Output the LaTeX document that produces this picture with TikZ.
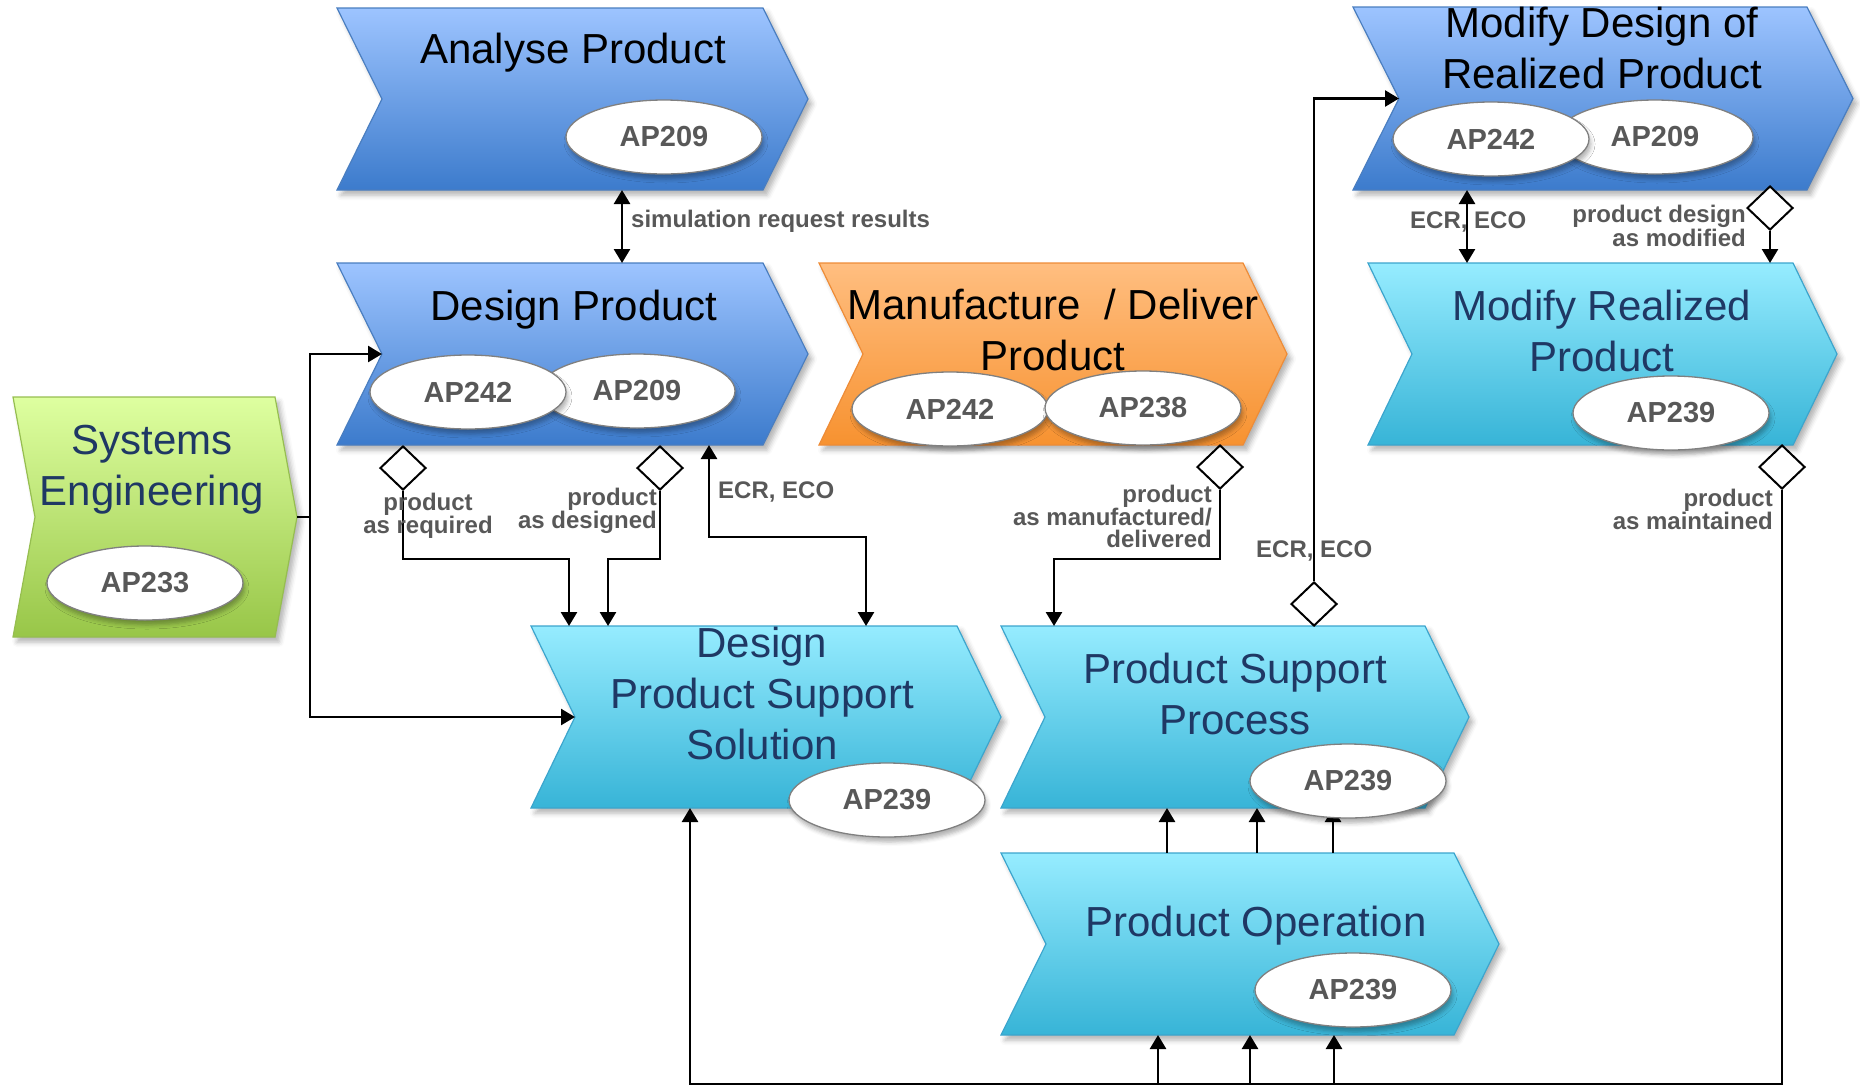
\documentclass[tikz,border=0pt]{standalone}
\usepackage{fontspec}
\setmainfont{Liberation Sans}
\usetikzlibrary{arrows.meta,shapes.geometric,calc,shadows.blur}

\definecolor{blueT}{RGB}{157,196,255}
\definecolor{blueB}{RGB}{60,123,204}
\definecolor{blueE}{RGB}{74,126,192}
\definecolor{orT}{RGB}{255,190,128}
\definecolor{orB}{RGB}{247,146,48}
\definecolor{orE}{RGB}{238,140,55}
\definecolor{cyT}{RGB}{150,236,255}
\definecolor{cyB}{RGB}{55,180,215}
\definecolor{cyE}{RGB}{60,165,205}
\definecolor{grT}{RGB}{222,255,160}
\definecolor{grB}{RGB}{152,198,72}
\definecolor{grE}{RGB}{150,190,80}
\definecolor{navy}{RGB}{31,56,100}
\definecolor{lblgray}{RGB}{88,88,88}
\definecolor{ellgray}{RGB}{128,128,128}

\newcommand{\chevshape}[3]{%
  \path[#3] (#1.north west) -- (#1.north east) -- ($(#1.east)+(#2,0)$) -- (#1.south east) -- (#1.south west) -- ($(#1.west)+(#2,0)$) -- cycle;
  \coordinate (#1-in) at ($(#1.west)+(#2,0)$);
  \coordinate (#1-out) at ($(#1.east)+(#2,0)$);}

\tikzset{
  frm/.style={inner sep=0pt, outer sep=0pt, draw=none},
  chev/.style={line width=1.2pt, blur shadow={shadow xshift=4pt, shadow yshift=-5pt, shadow blur radius=5pt, shadow opacity=30}},
  bluebox/.style={chev, draw=blueE, top color=blueT, bottom color=blueB},
  orbox/.style={chev, draw=orE, top color=orT, bottom color=orB},
  cybox/.style={chev, draw=cyE, top color=cyT, bottom color=cyB},
  grbox/.style={chev, draw=grE, top color=grT, bottom color=grB},
  ttl/.style={font=\fontsize{42}{51}\selectfont, inner sep=0pt, align=center, text=black},
  ttlnavy/.style={ttl, text=navy},
  apell/.style={ellipse, draw=ellgray, line width=1.3pt, fill=white, minimum width=196pt, minimum height=74pt, inner sep=0pt, font=\fontsize{29}{29}\selectfont\bfseries, text=lblgray, blur shadow={shadow xshift=2pt, shadow yshift=-5pt, shadow blur radius=4pt, shadow opacity=30}},
  lbl/.style={font=\fontsize{24}{22}\selectfont\bfseries, text=lblgray, inner sep=0pt},
  conn/.style={line width=2.6pt, draw=black},
  arr/.style={-{Triangle[length=14pt,width=16pt]}},
  arrs/.style={{Triangle[length=14pt,width=16pt]}-{Triangle[length=14pt,width=16pt]}},
  dia/.style={diamond, draw=black, line width=2pt, fill=white, minimum width=46pt, minimum height=44pt, inner sep=0pt}
}

\begin{document}
\begin{tikzpicture}[x=1pt, y=-1pt]
\useasboundingbox (0,0) rectangle (1860,1085);

% ---- box frames ----
\node[frm, minimum width=426pt, minimum height=182pt] (an) at (550,99) {};
\node[frm, minimum width=426pt, minimum height=182pt] (dp) at (550,354) {};
\node[frm, minimum width=424pt, minimum height=182pt] (mf) at (1031,354) {};
\node[frm, minimum width=454pt, minimum height=183pt] (md) at (1580,98.5) {};
\node[frm, minimum width=425pt, minimum height=182pt] (mr) at (1580.5,354) {};
\node[frm, minimum width=262pt, minimum height=240pt] (se) at (144,517) {};
\node[frm, minimum width=426pt, minimum height=182pt] (ds) at (744,717) {};
\node[frm, minimum width=424pt, minimum height=182pt] (ps) at (1213,717) {};
\node[frm, minimum width=453pt, minimum height=182pt] (po) at (1227.5,944) {};

% ---- chevrons ----
\chevshape{an}{45}{bluebox}
\chevshape{dp}{45}{bluebox}
\chevshape{mf}{44}{orbox}
\chevshape{md}{46}{bluebox}
\chevshape{mr}{44}{cybox}
\chevshape{se}{22}{grbox}
\chevshape{ds}{44}{cybox}
\chevshape{ps}{44}{cybox}
\chevshape{po}{45}{cybox}

% ---- titles ----
\node[ttl, anchor=base] (anT) at (573,63) {Analyse Product};
\node[ttl, anchor=base] (dpT) at (574,320) {Design Product};
\node[ttl, anchor=north] (mfT) at (1053,289) {Manufacture~~/ Deliver\\Product};
\node[ttl, anchor=north] (mdT) at (1602,7) {Modify Design of\\Realized Product};
\node[ttlnavy, anchor=north] (mrT) at (1602,290) {Modify Realized\\Product};
\node[ttlnavy, anchor=north] (seT) at (152,425) {Systems\\Engineering};
\node[ttlnavy, anchor=north] (dsT) at (762,627) {Design\\Product Support\\Solution};
\node[ttlnavy, anchor=north] (psT) at (1235,653) {Product Support\\Process};
\node[ttlnavy, anchor=base] (poT) at (1256,936) {Product Operation};

% ---- connectors ----
% Analyse <-> Design
\draw[conn, arrs] ($(an.south)+(72,0)$) -- ($(dp.north)+(72,0)$);
\node[lbl, anchor=base west] (simL) at (631,227) {simulation request results};

% Systems Engineering -> Design Product / Design Product Support Solution
\draw[conn] (se-out) -- ++(13,0) coordinate (sej);
\draw[conn, arr] (sej) |- (dp-in);
\draw[conn, arr] (sej) |- (ds-in);

% product as required
\node[dia] (d1) at (403,468) {};
\draw[conn, arr] (d1.south) -- ++(0,68) -| ($(ds.north)+(-175,0)$);
% product as designed
\node[dia] (d2) at (660,468) {};
\draw[conn, arr] (d2.south) -- ++(0,68) -| ($(ds.north)+(-136,0)$);
% ECR, ECO between DPSS and Design Product
\draw[conn, arrs] ($(ds.north)+(122,0)$) -- ++(0,-89) -| ($(dp.south)+(159,0)$);

\node[lbl, anchor=north, align=center] (l1) at (428,493) {product\\as required};
\node[lbl, anchor=north east, align=right] (l2) at (657,488) {product\\as designed};
\node[lbl, anchor=base west] (l3) at (718,498) {ECR, ECO};

% product as manufactured / delivered
\node[dia] (d3) at (1220,467) {};
\draw[conn, arr] (d3.south) -- ++(0,69) -| ($(ps.north)+(-159,0)$);
\node[lbl, anchor=north east, align=right] (l4) at (1212,485) {product\\as manufactured/\\delivered};

% ECR, ECO from Product Support Process to Modify Design
\node[dia] (d4) at (1314,604) {};
\draw[conn, arr] (d4.north) |- (md-in);
\node[lbl, anchor=base west] (l5) at (1256,557) {ECR, ECO};

% Modify Design <-> Modify Realized
\draw[conn, arrs] ($(md.south)+(-113,0)$) -- ($(mr.north)+(-113.5,0)$);
\node[lbl, anchor=base west] (l6) at (1410,228) {ECR, ECO};

% product design as modified
\node[dia] (d5) at (1770,208) {};
\draw[conn, arr] (d5.south) -- ($(mr.north)+(189.5,0)$);
\node[lbl, anchor=north east, align=right] (l7) at (1746,205) {product design\\as modified};

% product as maintained
\node[dia] (d6) at (1782,467) {};
\draw[conn, arr] (d6.south) -- ++(0,594) -| ($(ds.south)+(-54,0)$);
\node[lbl, anchor=north east, align=right] (l8) at (1773,489) {product\\as maintained};

% branches from bottom line to Product Operation
\draw[conn, arr] ($(po.south)+(-69.5,48)$) -- ++(0,-48);
\draw[conn, arr] ($(po.south)+(22.5,48)$) -- ++(0,-48);
\draw[conn, arr] ($(po.south)+(106.5,48)$) -- ++(0,-48);

% Product Operation -> Product Support Process
\draw[conn, arr] ($(po.north)+(-60.5,0)$) -- ($(ps.south)+(-46,0)$);
\draw[conn, arr] ($(po.north)+(29.5,0)$) -- ($(ps.south)+(44,0)$);
\draw[conn, arr] ($(po.north)+(105.5,0)$) -- ($(ps.south)+(120,0)$);

% ---- ellipses ----
\node[apell] (anE) at (664,137) {AP209};
\node[apell] (dpE2) at (637,391) {AP209};
\node[apell] (dpE1) at (468,392) {AP242};
\node[apell] (mfE1) at (950,409) {AP242};
\node[apell] (mfE2) at (1143,408) {AP238};
\node[apell] (mdE2) at (1655,137) {AP209};
\node[apell] (mdE1) at (1491,139) {AP242};
\node[apell] (mrE) at (1671,413) {AP239};
\node[apell] (seE) at (145,583) {AP233};
\node[apell] (dsE) at (887,800) {AP239};
\node[apell] (psE) at (1348,781) {AP239};
\node[apell] (poE) at (1353,990) {AP239};
\end{tikzpicture}
\end{document}
